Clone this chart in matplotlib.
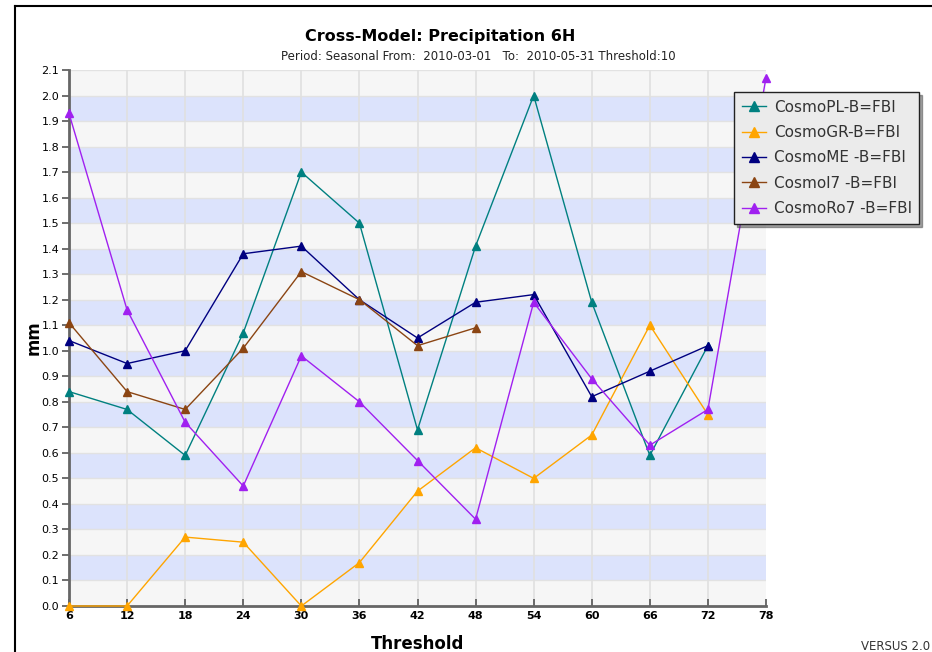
import numpy as np
import matplotlib.pyplot as plt
from matplotlib.lines import Line2D

thresholds = [6, 12, 18, 24, 30, 36, 42, 48, 54, 60, 66, 72, 78]
pl = [0.84, 0.77, 0.59, 1.07, 1.70, 1.50, 0.69, 1.41, 2.00, 1.19, 0.59, 1.02]
gr = [0.0, 0.0, 0.27, 0.25, 0.0, 0.17, 0.45, 0.62, 0.50, 0.67, 1.10, 0.75]
me = [1.04, 0.95, 1.00, 1.38, 1.41, 1.20, 1.05, 1.19, 1.22, 0.82, 0.92, 1.02]
i7 = [1.11, 0.84, 0.77, 1.01, 1.31, 1.20, 1.02, 1.09]
ro7 = [1.93, 1.16, 0.72, 0.47, 0.98, 0.80, 0.57, 0.34, 1.19, 0.89, 0.63, 0.77, 2.07]

series = [
    ('CosmoPL-B=FBI', pl, '#008080'),
    ('CosmoGR-B=FBI', gr, '#ffa500'),
    ('CosmoME -B=FBI', me, '#000080'),
    ('Cosmol7 -B=FBI', i7, '#8b4513'),
    ('CosmoRo7 -B=FBI', ro7, '#a020f0'),
]

plt.rcParams['font.family'] = ['DejaVu Sans']
fig = plt.figure(figsize=(9.32, 6.52), dpi=100)
ax = fig.add_axes([69/932, 1 - 606/652, (766 - 69)/932, (606 - 70)/652])

# striped background
ax.set_facecolor('#f6f6f6')
for k in range(21):
    if k % 2 == 1:
        ax.axhspan(k * 0.1, (k + 1) * 0.1, color='#dce3fc', zorder=0, lw=0)
for k in range(1, 22):
    ax.axhline(k * 0.1, color='#e2e2e2', lw=1, zorder=0.5)
for t in thresholds[1:-1]:
    ax.axvline(t, color='#e0e0e0', lw=1.2, zorder=0.5)

for name, vals, col in series:
    ax.plot(thresholds[:len(vals)], vals, color=col, lw=1, marker='^',
            markersize=5.5, clip_on=False, zorder=3)

ax.set_xlim(6, 78)
ax.set_ylim(0, 2.1)
ax.set_xticks(thresholds)
ax.set_xticklabels([str(t) for t in thresholds], fontsize=8, fontweight='bold')
ax.set_yticks(np.arange(0, 2.11, 0.1))
ax.set_yticklabels(['%.1f' % v for v in np.arange(0, 2.11, 0.1)], fontsize=8)
ax.tick_params(direction='in', length=5, color='#555555', width=1.2)
ax.tick_params(axis='y', direction='out', pad=2)
for s in ['top', 'right']:
    ax.spines[s].set_visible(False)
for s in ['left', 'bottom']:
    ax.spines[s].set_color('#666666')
    ax.spines[s].set_linewidth(2)

ax.set_xlabel('Threshold', fontsize=12, fontweight='bold', labelpad=10)
ax.set_ylabel('mm', fontsize=12, fontweight='bold', labelpad=-1)

fig.text(440/932, 1 - 36/652, 'Cross-Model: Precipitation 6H', ha='center', va='center',
         fontsize=11.5, fontweight='bold')
fig.text(478/932, 1 - 57/652,
         'Period: Seasonal From:  2010-03-01   To:  2010-05-31 Threshold:10',
         ha='center', va='center', fontsize=8.5, color='#222222')
fig.text(930/932, 1 - 646/652, 'VERSUS 2.0', ha='right', va='center', fontsize=8.5, color='#333333')

# frame lines
fig.add_artist(Line2D([15/932, 15/932], [0, 1 - 6/652], color='black', lw=1.5))
fig.add_artist(Line2D([15/932, 1], [1 - 6/652, 1 - 6/652], color='black', lw=1.5))

handles = [Line2D([], [], color=c, marker='^', markersize=7, lw=1) for _, _, c in series]
leg = ax.legend(handles, [n for n, _, _ in series], loc='upper left',
                bbox_to_anchor=((734 - 69)/697, (606 - 92)/536), borderaxespad=0,
                fontsize=11, frameon=True, fancybox=False, shadow=True, borderpad=0.5,
                handlelength=1.6, handletextpad=0.5, labelspacing=0.68)
leg.get_frame().set_facecolor('#ebebeb')
leg.get_frame().set_edgecolor('#222222')
leg.get_frame().set_alpha(1)
for t in leg.get_texts():
    t.set_color('#333333')

fig.savefig('out.png', dpi=100)
